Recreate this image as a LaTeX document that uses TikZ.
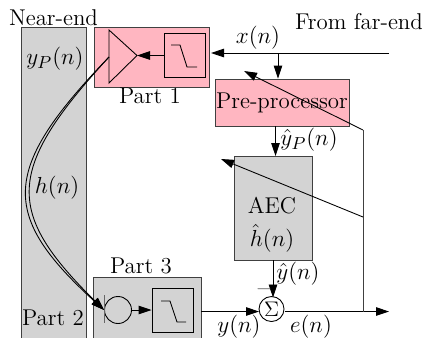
\documentclass[tikz,border=0pt]{standalone}
\usepackage{amsmath,amssymb}
\usepackage{tikz}
\usetikzlibrary{positioning, calc, arrows.meta}
\definecolor{partpink}{HTML}{FFB6C1}
\definecolor{partgray}{HTML}{D3D3D3}

\begin{document}
\begin{tikzpicture}[
        line width=0.5pt,
        >={Triangle[length=0.26cm, width=0.17cm]},
        font=\fontsize{13}{15}\selectfont,
        pinkblock/.style={
            rectangle, 
            draw=black!75, 
            fill=partpink, 
            inner sep=0pt
        },
        grayblock/.style={
            rectangle, 
            draw=black!75, 
            fill=partgray, 
            inner sep=0pt
        },
        filterbox/.style={
            rectangle, 
            draw, 
            inner sep=0pt, 
            minimum width=0.82cm, 
            minimum height=0.88cm
        },
        roundel/.style={
            circle, 
            draw, 
            inner sep=0pt
        },
        signal/.style={
            scale=1.1
        }
    ]

        \useasboundingbox (0, 0) rectangle (8.5, 6.74);

        % Large blocks
        \node[grayblock, minimum width=1.3cm, minimum height=6.3cm] (nearend) at (1.07, 3.05) {};
        \node[pinkblock, minimum width=2.3cm, minimum height=1.2cm] (part1) at (3.04, 5.6) {};
        \node[grayblock, minimum width=2.16cm, minimum height=1.3cm] (part3) at (2.94, 0.55) {};
        \node[pinkblock, minimum width=2.68cm, minimum height=0.94cm] (preproc) at (5.64, 4.69) {Pre-processor};
        \node[grayblock, minimum width=1.56cm, minimum height=2.08cm] (aec) at (5.46, 2.58) {};

        % Part 1 contents
        \node[filterbox] (filter1) at (3.69, 5.63) {};
        \draw (3.42, 5.84) -- (3.6, 5.84) -- (3.74, 5.4) -- (3.94, 5.4);
        \coordinate (ampin) at (2.18, 5.6);
        \coordinate (amptip) at (2.74, 5.63);
        \draw (2.18, 6.14) -- (2.18, 5.08) -- (amptip) -- cycle;
        \draw[->] (filter1.west) -- (amptip);

        % Part 3 contents
        \node[roundel, minimum size=0.54cm] (mic) at (2.36, 0.54) {};
        \node[filterbox] (filter3) at (3.45, 0.54) {};
        \draw (3.22, 0.72) -- (3.4, 0.72) -- (3.54, 0.3) -- (3.72, 0.3);
        \draw[black!60] (2.08, 0.84) -- (2.08, 0.28);
        \draw[->] (mic.east) -- (filter3.west);

        % Acoustic path
        \draw[->] (ampin) .. controls (0, 3.34) and (0, 2.44) .. (mic.west);
        \draw[->] (ampin) .. controls (0.1, 3.34) and (0.1, 2.5) .. (mic.west);

        % Far-end signal
        \coordinate (farend) at (7.78, 5.68);
        \coordinate (part1in) at (4.22, 5.68);
        \coordinate (xtap) at (5.56, 5.68);
        \draw[->] (farend) -- (part1in);
        \draw[->] (xtap) -- (xtap |- preproc.north);
        \draw[->] (5.51, 4.22) -- (5.51, 3.62);
        \draw[->] (aec.south) -- (aec.south |- 0, 0.79);

        % Summing point and error path
        \node[roundel, minimum size=0.5cm] (sum) at (5.43, 0.56) {$\Sigma$};
        \coordinate (part3out) at (4.02, 0.51);
        \coordinate (sumin) at (5.18, 0.51);
        \coordinate (sumout) at (5.69, 0.51);
        \coordinate (etap) at (7.26, 0.51);
        \coordinate (eend) at (7.78, 0.51);
        \draw[->] (part3out) -- (sumin);
        \draw[->] (sumout) -- (eend);
        \draw[black!75] (etap) -- (7.26, 4.14);
        \draw[->] (7.26, 4.14) -- (4.88, 5.32);
        \draw[->] (7.26, 2.4) -- (4.42, 3.56);

        % Labels
        \node (nearlabel) at (1.07, 6.38) {Near-end};
        \node (farlabel) at (7.18, 6.3) {From far-end};
        \node[signal] (yplabel) at (1.1, 5.56) {$y_P(n)$};
        \node (part1label) at (3, 4.82) {Part 1};
        \node[signal] (hlabel) at (1.14, 2.98) {$h(n)$};
        \node (part2label) at (1.06, 0.38) {Part 2};
        \node (part3label) at (2.82, 1.42) {Part 3};
        \node[signal] (xlabel) at (5.16, 5.98) {$x(n)$};
        \node[signal] (yphatlabel) at (6.18, 3.94) {$\hat{y}_P(n)$};
        \node (aeclabel) at (5.44, 2.62) {AEC};
        \node[signal] (hhatlabel) at (5.44, 1.98) {$\hat{h}(n)$};
        \node[signal] (yhatlabel) at (5.96, 1.26) {$\hat{y}(n)$};
        \node[text=black!60] (minuslabel) at (5.28, 0.96) {$-$};
        \node[signal] (ylabel) at (4.78, 0.2) {$y(n)$};
        \node[signal] (elabel) at (6.22, 0.2) {$e(n)$};

    \end{tikzpicture}
\end{document}
